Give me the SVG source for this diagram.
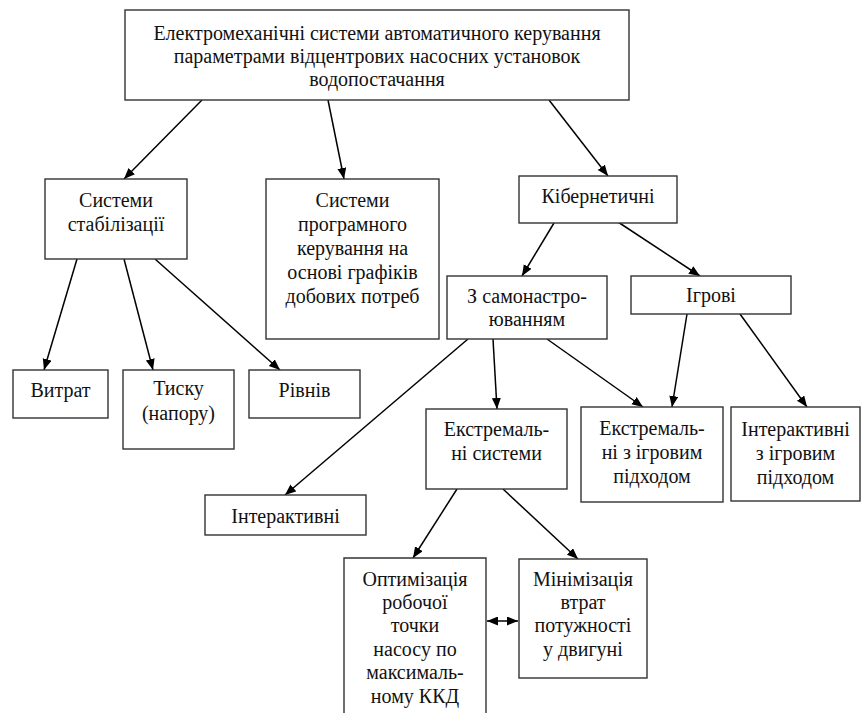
<svg xmlns="http://www.w3.org/2000/svg" width="862" height="713" viewBox="0 0 862 713">
<style>
.box{fill:#fff;stroke:#333;stroke-width:1.4}
.c{stroke:#000;stroke-width:1.5;fill:none}
</style>
<defs>
<marker id="ah" markerUnits="userSpaceOnUse" markerWidth="12" markerHeight="10" refX="11" refY="4.5" orient="auto">
<path d="M0,0 L11,4.5 L0,9 z" fill="#000"/>
</marker>
<marker id="as" markerUnits="userSpaceOnUse" markerWidth="12" markerHeight="10" refX="0" refY="4.5" orient="auto">
<path d="M11,0 L0,4.5 L11,9 z" fill="#000"/>
</marker>
</defs>
<rect width="862" height="713" fill="#fff"/>
<g id="connectors">
<line class="c" x1="202" y1="100" x2="124" y2="179" marker-end="url(#ah)"/>
<line class="c" x1="328" y1="100" x2="344" y2="179" marker-end="url(#ah)"/>
<line class="c" x1="549" y1="100" x2="608" y2="176" marker-end="url(#ah)"/>
<line class="c" x1="77" y1="259" x2="44" y2="370" marker-end="url(#ah)"/>
<line class="c" x1="124" y1="259" x2="153" y2="370" marker-end="url(#ah)"/>
<line class="c" x1="155" y1="259" x2="280" y2="370" marker-end="url(#ah)"/>
<line class="c" x1="554" y1="223" x2="522" y2="276" marker-end="url(#ah)"/>
<line class="c" x1="618" y1="222" x2="700" y2="276" marker-end="url(#ah)"/>
<line class="c" x1="468" y1="339" x2="285" y2="495" marker-end="url(#ah)"/>
<line class="c" x1="493" y1="339" x2="497" y2="409" marker-end="url(#ah)"/>
<line class="c" x1="547" y1="339" x2="643" y2="407" marker-end="url(#ah)"/>
<line class="c" x1="687" y1="314" x2="672" y2="407" marker-end="url(#ah)"/>
<line class="c" x1="740" y1="314" x2="807" y2="407" marker-end="url(#ah)"/>
<line class="c" x1="457" y1="489" x2="413" y2="558" marker-end="url(#ah)"/>
<line class="c" x1="503" y1="489" x2="578" y2="559" marker-end="url(#ah)"/>
<line class="c" x1="487" y1="621" x2="518" y2="621" marker-start="url(#as)" marker-end="url(#ah)"/>
</g>
<g font-family="'Liberation Serif', 'Times New Roman', 'DejaVu Serif', serif" font-size="20" fill="#111" text-anchor="middle">
<g id="n-root">
<rect class="box" x="125" y="10" width="504" height="90"/>
<text x="377" y="40">Електромеханічні системи автоматичного керування</text>
<text x="377" y="63">параметрами відцентрових насосних установок</text>
<text x="377" y="86">водопостачання</text>
</g>
<g id="n-stab">
<rect class="box" x="45" y="179" width="142" height="80"/>
<text x="116" y="207">Системи</text>
<text x="116" y="231">стабілізації</text>
</g>
<g id="n-prog">
<rect class="box" x="266" y="179" width="173" height="160"/>
<text x="352.5" y="207">Системи</text>
<text x="352.5" y="231">програмного</text>
<text x="352.5" y="255">керування на</text>
<text x="352.5" y="279">основі графіків</text>
<text x="352.5" y="303">добових потреб</text>
</g>
<g id="n-kib">
<rect class="box" x="519" y="176" width="158" height="47"/>
<text x="598" y="203">Кібернетичні</text>
</g>
<g id="n-samon">
<rect class="box" x="447" y="276" width="160" height="63"/>
<text x="527" y="303">З самонастро-</text>
<text x="527" y="326">юванням</text>
</g>
<g id="n-igrovi">
<rect class="box" x="631" y="276" width="160" height="38"/>
<text x="711" y="302">Ігрові</text>
</g>
<g id="n-vytrat">
<rect class="box" x="13" y="370" width="95" height="48"/>
<text x="60.5" y="397">Витрат</text>
</g>
<g id="n-tysku">
<rect class="box" x="123" y="370" width="111" height="79"/>
<text x="178.5" y="395">Тиску</text>
<text x="178.5" y="420">(напору)</text>
</g>
<g id="n-rivniv">
<rect class="box" x="249" y="370" width="111" height="48"/>
<text x="304.5" y="397">Рівнів</text>
</g>
<g id="n-inter">
<rect class="box" x="205" y="495" width="161" height="40"/>
<text x="285.5" y="523">Інтерактивні</text>
</g>
<g id="n-ekstr">
<rect class="box" x="426" y="409" width="141" height="80"/>
<text x="496.5" y="436">Екстремаль-</text>
<text x="496.5" y="460">ні системи</text>
</g>
<g id="n-ekstr-igr">
<rect class="box" x="581" y="407" width="142" height="95"/>
<text x="652" y="435">Екстремаль-</text>
<text x="652" y="459">ні з ігровим</text>
<text x="652" y="483">підходом</text>
</g>
<g id="n-inter-igr">
<rect class="box" x="731" y="407" width="129" height="94"/>
<text x="795.5" y="436">Інтерактивні</text>
<text x="795.5" y="460">з ігровим</text>
<text x="795.5" y="484">підходом</text>
</g>
<g id="n-optym">
<path class="box" d="M344,714 L344,558 L486,558 L486,714"/>
<text x="415" y="586">Оптимізація</text>
<text x="415" y="609">робочої</text>
<text x="415" y="632">точки</text>
<text x="415" y="656">насосу по</text>
<text x="415" y="679">максималь-</text>
<text x="415" y="703">ному ККД</text>
</g>
<g id="n-minim">
<rect class="box" x="519" y="559" width="128" height="119"/>
<text x="583" y="586">Мінімізація</text>
<text x="583" y="609">втрат</text>
<text x="583" y="632">потужності</text>
<text x="583" y="656">у двигуні</text>
</g>
</g>
</svg>
